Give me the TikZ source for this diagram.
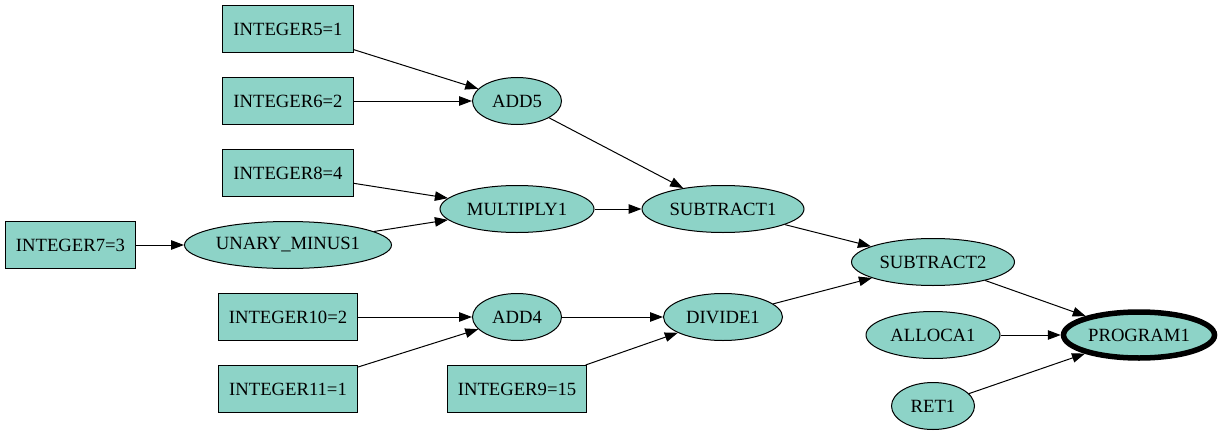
\documentclass[tikz,border=0pt]{standalone}
\usepackage{fontspec}
\setmainfont{Liberation Serif}
\usetikzlibrary{shapes.geometric,arrows.meta}
\definecolor{nodefill}{HTML}{8DD3C7}
\begin{document}
\begin{tikzpicture}[x=1pt,y=-1pt,
  every node/.style={font=\fontsize{18.67}{22}\selectfont, fill=nodefill, draw=black, line width=1pt, inner sep=0pt},
  box/.style={rectangle, minimum height=47pt},
  oval/.style={ellipse, minimum height=47pt},
  edge/.style={draw, line width=1pt, -{Triangle[length=13pt,width=9.5pt]}}]
\useasboundingbox (0,0) rectangle (1223,436);
% column 1
\node[box, minimum width=130pt] (i7) at (70.5,245) {\makebox[0pt]{INTEGER7=3}};
% column 2
\node[box, minimum width=131pt] (i5) at (288,29) {\makebox[0pt]{INTEGER5=1}};
\node[box, minimum width=131pt] (i6) at (288,101) {\makebox[0pt]{INTEGER6=2}};
\node[box, minimum width=131pt] (i8) at (288,173) {\makebox[0pt]{INTEGER8=4}};
\node[oval, minimum width=207pt] (um) at (288,245) {\makebox[0pt]{UNARY\_MINUS1}};
\node[box, minimum width=139pt] (i10) at (288,317) {\makebox[0pt]{INTEGER10=2}};
\node[box, minimum width=139pt] (i11) at (288,389) {\makebox[0pt]{INTEGER11=1}};
% column 3
\node[oval, minimum width=89pt] (add5) at (517,101) {\makebox[0pt]{ADD5}};
\node[oval, minimum width=154pt] (mul) at (517,209) {\makebox[0pt]{MULTIPLY1}};
\node[oval, minimum width=89pt] (add4) at (517,317) {\makebox[0pt]{ADD4}};
\node[box, minimum width=139pt] (i9) at (517,389) {\makebox[0pt]{INTEGER9=15}};
% column 4
\node[oval, minimum width=162pt] (sub1) at (723,209) {\makebox[0pt]{SUBTRACT1}};
\node[oval, minimum width=119pt] (div) at (723,317) {\makebox[0pt]{DIVIDE1}};
% column 5
\node[oval, minimum width=163pt] (sub2) at (933,262) {\makebox[0pt]{SUBTRACT2}};
\node[oval, minimum width=134pt] (alloca) at (933,335) {\makebox[0pt]{ALLOCA1}};
\node[oval, minimum width=83pt] (ret) at (933,406) {\makebox[0pt]{RET1}};
% column 6
\node[oval, minimum width=151pt, minimum height=46pt, line width=5.5pt] (prog) at (1139,335) {\makebox[0pt]{PROGRAM1}};
% edges
\draw[edge] (i5) -- (add5);
\draw[edge] (i6) -- (add5);
\draw[edge] (add5) -- (sub1);
\draw[edge] (i8) -- (mul);
\draw[edge] (i7) -- (um);
\draw[edge] (um) -- (mul);
\draw[edge] (mul) -- (sub1);
\draw[edge] (sub1) -- (sub2);
\draw[edge] (i10) -- (add4);
\draw[edge] (i11) -- (add4);
\draw[edge] (add4) -- (div);
\draw[edge] (i9) -- (div);
\draw[edge] (div) -- (sub2);
\draw[edge] (sub2) -- (prog);
\draw[edge] (alloca) -- (prog);
\draw[edge] (ret) -- (prog);
\end{tikzpicture}
\end{document}
